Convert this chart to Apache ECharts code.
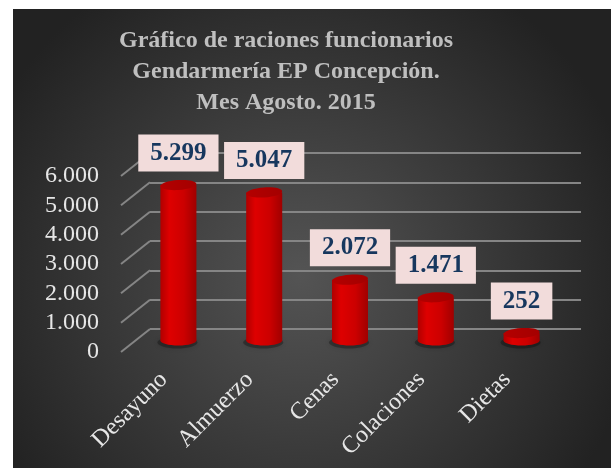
<!DOCTYPE html>
<html>
<head>
<meta charset="utf-8">
<script src="https://cdn.jsdelivr.net/npm/echarts@6/dist/echarts.min.js"></script>
<style>
html,body{margin:0;padding:0;background:#fff;}
#main{position:absolute;left:13px;top:9px;width:598px;height:459px;}
</style>
</head>
<body>
<div id="main"></div>
<script>
// datos del grafico
var categorias = ['Desayuno', 'Almuerzo', 'Cenas', 'Colaciones', 'Dietas'];
var raciones   = [5299, 5047, 2072, 1471, 252];
var ticksY     = [0, 1000, 2000, 3000, 4000, 5000, 6000];
var titulo     = 'Gráfico de raciones funcionarios\nGendarmería EP Concepción.\nMes Agosto. 2015';

var DX = 29, DY = 23;   // profundidad del efecto 3D
var FUENTE = '"Liberation Serif", "Times New Roman", serif';
var GRIS = '#858585';

function miles(v){
	return String(v).replace(/\B(?=(\d{3})+(?!\d))/g, '.');
}

var chart = echarts.init(document.getElementById('main'));

var cuerpo = new echarts.graphic.LinearGradient(0, 0, 1, 0, [
	{offset: 0,    color: '#b00000'},
	{offset: 0.25, color: '#de0000'},
	{offset: 0.65, color: '#cc0000'},
	{offset: 1,    color: '#a00000'}
]);
var tapa = new echarts.graphic.LinearGradient(0, 0, 1, 0, [
	{offset: 0, color: '#b40000'},
	{offset: 1, color: '#a40000'}
]);

var option = {
	backgroundColor: {
		type: 'radial', x: 0.48, y: 0.58, r: 0.75,
		colorStops: [{offset: 0, color: '#545454'}, {offset: 1, color: '#222222'}]
	},
	title: {
		text: titulo,
		left: 268, top: 11,
		textAlign: 'center',
		textStyle: {fontFamily: FUENTE, fontWeight: 'bold', fontSize: 24, lineHeight: 31, color: '#bfbfbf'}
	},
	grid: [
		// frente: etiquetas
		{left: 108, right: 61, top: 167, bottom: 116},
		// medio: barras
		{left: 108 + DX / 2, right: 61 - DX / 2, top: 167 - DY / 2, bottom: 116 + DY / 2},
		// fondo: lineas de division
		{left: 108 + DX, right: 30, top: 167 - DY, bottom: 116 + DY}
	],
	xAxis: [
		{gridIndex: 0, type: 'category', data: categorias,
		 axisLine: {show: false}, axisTick: {show: false},
		 axisLabel: {rotate: 45, margin: 24, color: '#e6e6e6', fontFamily: FUENTE, fontSize: 24}},
		{gridIndex: 1, type: 'category', data: categorias, show: false},
		{gridIndex: 2, type: 'value', min: 0, max: 1, show: false}
	],
	yAxis: [
		{gridIndex: 0, type: 'value', min: 0, max: 6000, interval: 1000,
		 axisLine: {show: false}, axisTick: {show: false}, splitLine: {show: false},
		 axisLabel: {margin: 22, color: '#e6e6e6', fontFamily: FUENTE, fontSize: 24, formatter: miles}},
		{gridIndex: 1, type: 'value', min: 0, max: 6000, interval: 1000, show: false},
		{gridIndex: 2, type: 'value', min: 0, max: 6000, interval: 1000,
		 axisLine: {show: false}, axisTick: {show: false}, axisLabel: {show: false},
		 splitLine: {lineStyle: {color: GRIS, width: 2}}}
	],
	series: [
		{
			// lineas diagonales de la pared izquierda
			type: 'custom', xAxisIndex: 0, yAxisIndex: 0, silent: true, clip: false,
			data: ticksY.map(function(t){ return [0, t]; }),
			renderItem: function(params, api){
				var p = api.coord([0, api.value(1)]);
				var x0 = params.coordSys.x;
				return {type: 'line', shape: {x1: x0, y1: p[1], x2: x0 + DX, y2: p[1] - DY},
					style: {stroke: GRIS, lineWidth: 2}};
			}
		},
		{
			// cilindros
			type: 'custom', xAxisIndex: 1, yAxisIndex: 1, silent: true, clip: false,
			data: raciones.map(function(v, i){ return [i, v]; }),
			renderItem: function(params, api){
				var v = api.value(1);
				var top = api.coord([api.value(0), v]);
				var base = api.coord([api.value(0), 0]);
				var w = api.size([1, 0])[0] * 0.42;
				var cx = top[0], rx = w / 2, ry = 5;
				return {type: 'group', children: [
					{type: 'ellipse', shape: {cx: cx - 1, cy: base[1] + 2, rx: rx + 2, ry: ry + 1},
					 style: {fill: 'rgba(0,0,0,0.28)', shadowBlur: 5, shadowColor: 'rgba(0,0,0,0.5)'}},
					{type: 'ellipse', shape: {cx: cx, cy: base[1], rx: rx, ry: ry}, style: {fill: cuerpo}},
					{type: 'rect', shape: {x: cx - rx, y: top[1], width: w, height: base[1] - top[1]}, style: {fill: cuerpo}},
					{type: 'ellipse', shape: {cx: cx, cy: top[1], rx: rx, ry: ry}, style: {fill: tapa},
					 rotation: 0.07, originX: cx, originY: top[1]},
					{type: 'text', style: {text: miles(v), x: cx, y: top[1] - 32, align: 'center', verticalAlign: 'middle',
					 fill: '#17375e', font: 'bold 25px ' + FUENTE, backgroundColor: '#f2dcdb', padding: [7, 12, 5, 12]}}
				]};
			}
		}
	]
};

chart.setOption(option);
</script>
</body>
</html>
